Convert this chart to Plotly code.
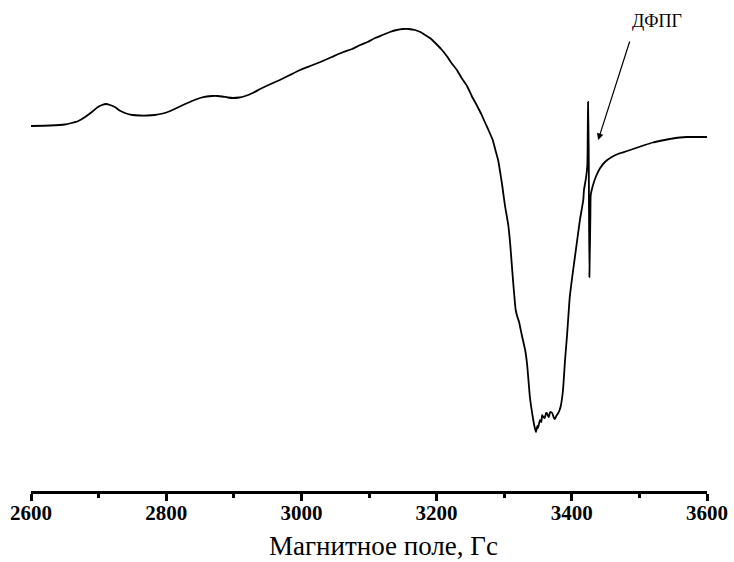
import plotly.graph_objects as go

field = [2600, 2628, 2650, 2660, 2670, 2680, 2690, 2698, 2705, 2711, 2717, 2724, 2731, 2739,
         2750, 2761, 2772, 2783, 2795, 2806, 2817, 2828, 2840, 2850, 2860, 2868, 2876, 2883,
         2891, 2899, 2908, 2917, 2928, 2939, 2953, 2968, 2983, 2998, 3013, 3028, 3045, 3062,
         3075, 3087, 3098, 3109, 3120, 3131, 3141, 3150, 3159, 3168, 3176, 3183, 3192, 3201,
         3208, 3215, 3222, 3230, 3237, 3245, 3252, 3260, 3266, 3272, 3278, 3283, 3287, 3291,
         3294, 3297, 3301, 3306, 3309, 3313, 3317, 3320, 3322, 3326, 3331, 3334, 3338, 3343,
         3345, 3347, 3349, 3350, 3353, 3355, 3356, 3358, 3360, 3362, 3363, 3365, 3366, 3368,
         3371, 3373, 3375, 3377, 3380, 3382, 3384, 3387, 3390, 3393, 3397, 3402, 3408, 3412,
         3417, 3418, 3421, 3423, 3424, 3425, 3426, 3427.5, 3428, 3431, 3436, 3442, 3449, 3459,
         3470, 3482, 3495, 3508, 3520, 3530, 3545, 3560, 3570, 3585, 3600]
signal = [174, 174.5, 175.5, 177, 179, 183, 188, 192.5, 195, 196, 195, 193, 189.5, 187,
          185, 184.5, 184.5, 185, 186.5, 189, 192.5, 196, 199.5, 202, 203.5, 204, 204, 203.5,
          202.5, 202, 202.5, 204, 207, 211, 215.5, 220, 225, 230, 234, 238, 243, 248,
          251, 255, 258, 262, 265, 268, 270, 271, 271, 270, 268, 265, 261, 255,
          250, 244, 237, 230, 222, 214, 204, 194, 186, 177, 168, 160, 150, 140,
          128, 115, 95, 75, 55, 20, -10, -18, -22, -35, -50, -65, -97, -120,
          -127, -132, -126, -128, -120, -122, -115, -117, -118, -113, -113, -116, -117, -112,
          -113, -117, -119, -116, -113, -110, -105, -90, -60, -35, 3, 30, 60, 80,
          100, 110, 122, 135, 198, 150, 23, 85, 105, 114, 124, 132, 138, 143,
          146.5, 149, 152, 155, 157.5, 159, 161, 162.5, 163, 163, 163]

x_ticks = [2600, 2800, 3000, 3200, 3400, 3600]
x_minor = [2700, 2900, 3100, 3300, 3500]
x_title = "Магнитное поле, Гс"
label_text = "ДФПГ"
arrow_tip = (3439, 160)

serif = "'Liberation Serif', 'Times New Roman', serif"

fig = go.Figure()
fig.add_trace(go.Scatter(x=field, y=signal, mode="lines",
                         line=dict(color="black", width=1.8, shape="spline", smoothing=0.4),
                         showlegend=False))

fig.add_annotation(x=arrow_tip[0], y=arrow_tip[1], xref="x", yref="y", text="",
                   showarrow=True, arrowhead=2, arrowsize=1.1, arrowwidth=1.2,
                   arrowcolor="black", ax=32, ay=-100)
fig.add_annotation(x=3526, y=279, xref="x", yref="y", text=label_text, showarrow=False,
                   font=dict(family=serif, size=18, color="black"))
fig.add_annotation(x=0.521, y=-0.113, xref="paper", yref="paper", text=x_title,
                   showarrow=False, xanchor="center", yanchor="middle", borderpad=0,
                   font=dict(family=serif, size=27, color="black"))

fig.update_layout(
    width=734, height=562,
    margin=dict(l=31, r=27, t=0, b=71),
    plot_bgcolor="white", paper_bgcolor="white",
    xaxis=dict(range=[2600, 3600], tickvals=x_ticks, ticks="outside", ticklen=7,
               tickwidth=2.5, tickcolor="black", showline=True, linewidth=2.5, linecolor="black",
               showgrid=False, zeroline=False, ticklabelstandoff=-6,
               minor=dict(tickvals=x_minor, ticks="outside",
                          ticklen=4, tickwidth=2.5, tickcolor="black"),
               tickfont=dict(family=serif, size=21, color="black", weight="bold")),
    yaxis=dict(range=[-191, 300], visible=False),
)

fig.write_html("out.html")
